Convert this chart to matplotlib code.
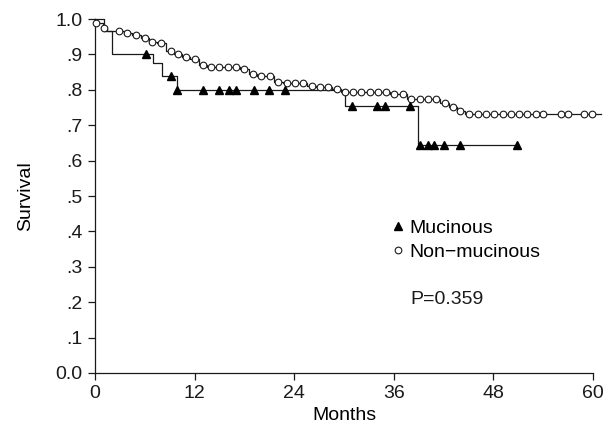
import matplotlib

matplotlib.use("Agg")
import matplotlib.pyplot as plt
import numpy as np
from matplotlib.lines import Line2D

# Kaplan-Meier steps: (time of drop, survival after drop)
muc_event_t = [1.1, 2.0, 7.0, 8.1, 9.9, 30.1, 38.9]
muc_event_s = [0.966, 0.90, 0.875, 0.84, 0.80, 0.754, 0.644]
muc_end = 51.0
muc_censor_t = [6.1, 9.1, 9.9, 13.0, 15.0, 16.1, 17.0, 19.1, 21.0, 22.9,
                31.0, 34.0, 35.0, 38.0, 39.1, 40.1, 40.9, 42.0, 44.0, 50.9]

non_event_t = [0.05, 1.0, 1.5, 3.5, 4.5, 5.5, 6.5, 7.5, 8.5, 9.5, 10.5, 11.5,
               12.5, 13.5, 17.5, 18.5, 19.5, 21.6, 22.6, 25.6, 26.6, 27.6,
               28.6, 29.6, 35.6, 37.6, 41.6, 42.6, 43.6, 44.6]
non_event_s = [0.99, 0.975, 0.966, 0.961, 0.954, 0.945, 0.936, 0.931, 0.910,
               0.901, 0.894, 0.886, 0.870, 0.865, 0.859, 0.845, 0.839, 0.821,
               0.818, 0.812, 0.809, 0.807, 0.802, 0.795, 0.788, 0.773, 0.762,
               0.752, 0.741, 0.731]
non_end = 61.0
non_censor_t = [0.1, 1.1, 2.9, 3.9, 5.0, 6.0, 6.9, 8.0, 9.1, 10.0, 11.0, 12.0,
                13.0, 14.0, 15.0, 16.0, 17.0, 17.9, 19.0, 20.0, 21.1, 22.1,
                23.1, 24.1, 25.1, 26.1, 27.1, 28.1, 29.1, 30.1, 31.1, 32.1,
                33.1, 34.1, 35.1, 36.0, 37.1, 38.1, 39.1, 40.1, 41.1, 42.2,
                43.1, 44.0, 45.1, 46.1, 47.1, 48.1, 49.1, 50.1, 51.1, 52.1,
                53.1, 54.0, 56.1, 57.0, 58.9, 59.9]

x_ticks = [0, 12, 24, 36, 48, 60]
y_ticks = [0.0, 0.1, 0.2, 0.3, 0.4, 0.5, 0.6, 0.7, 0.8, 0.9, 1.0]
y_tick_labels = ["0.0", ".1", ".2", ".3", ".4", ".5", ".6", ".7", ".8", ".9", "1.0"]
p_text = "P=0.359"


def step_curve(event_t, event_s, end):
    t = np.concatenate([[0.0], event_t, [end]])
    s = np.concatenate([[1.0], event_s, [event_s[-1]]])
    return t, s


def surv_at(times, event_t, event_s):
    levels = np.concatenate([[1.0], event_s])
    return levels[np.searchsorted(event_t, times, side="right")]


plt.rcParams["font.family"] = ["Liberation Sans", "DejaVu Sans"]
FS = 14
INK = "#1a1a1a"
fig = plt.figure(figsize=(6.14, 4.36), dpi=100)
ax = fig.add_axes([0.1547, 0.1445, 0.8111, 0.8119])

line_kw = dict(color=INK, linewidth=0.9, where="post", clip_on=False)
t, s = step_curve(non_event_t, non_event_s, non_end)
ax.step(t, s, **line_kw)
t, s = step_curve(muc_event_t, muc_event_s, muc_end)
ax.step(t, s, **line_kw)

ax.plot(non_censor_t, surv_at(non_censor_t, non_event_t, non_event_s), "o",
        markersize=4.8, markerfacecolor="white", markeredgecolor=INK,
        markeredgewidth=0.8, linestyle="none", clip_on=False, zorder=3)
ax.plot(muc_censor_t, surv_at(muc_censor_t, muc_event_t, muc_event_s), "^",
        markersize=5.5, color="black", linestyle="none", clip_on=False, zorder=4)

ax.set_xlim(0, 60)
ax.set_ylim(0, 1)
ax.set_xticks(x_ticks)
ax.set_yticks(y_ticks)
ax.set_yticklabels(y_tick_labels)
ax.spines[["top", "right"]].set_visible(False)
for side in ["left", "bottom"]:
    ax.spines[side].set_linewidth(0.9)
    ax.spines[side].set_color(INK)
ax.tick_params(direction="out", length=5, width=0.9, labelsize=FS,
               colors=INK, pad=4)
ax.set_xlabel("Months", fontsize=FS, labelpad=3)
ax.set_ylabel("Survival", fontsize=FS, labelpad=15)

handles = [
    Line2D([], [], marker="^", color="black", linestyle="none", markersize=5.5),
    Line2D([], [], marker="o", markerfacecolor="white", markeredgecolor=INK,
           markeredgewidth=0.8, linestyle="none", markersize=4.8),
]
ax.legend(handles, ["Mucinous", "Non\u2212mucinous"], loc="upper left",
          bbox_to_anchor=(392 / 614, 1 - 219 / 436), bbox_transform=fig.transFigure,
          frameon=False, fontsize=FS, handlelength=0.6, handletextpad=0.3,
          labelspacing=0.36, borderpad=0, borderaxespad=0)
fig.text(410 / 614, 1 - 300 / 436, p_text, fontsize=FS, va="center",
         ha="left", color=INK)

fig.savefig("out.png", dpi=100)
